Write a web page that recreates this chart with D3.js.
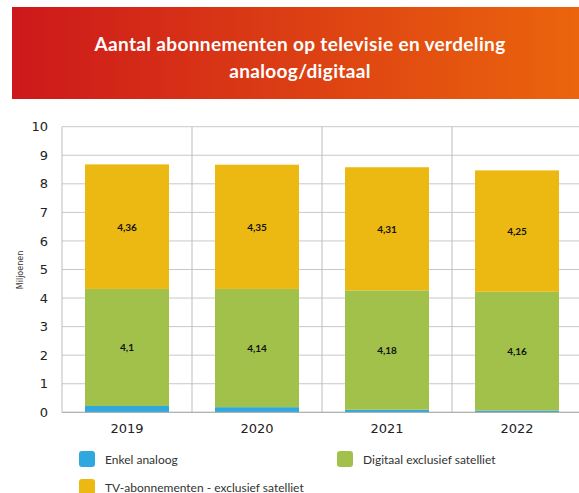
<!DOCTYPE html>
<html><head><meta charset="utf-8">
<script src="https://cdn.jsdelivr.net/npm/d3@7"></script>
<style>body{margin:0;background:#fff}svg{display:block}</style>
</head><body>
<script>
const years = ["2019","2020","2021","2022"];
const enkelAnaloog = [0.22, 0.18, 0.09, 0.06];
const digitaalExclSat = [4.1, 4.14, 4.18, 4.16];
const tvAbonnementen = [4.36, 4.35, 4.31, 4.25];
const yTicks = [0,1,2,3,4,5,6,7,8,9,10];
const seriesNames = ["Enkel analoog","Digitaal exclusief satelliet","TV-abonnementen - exclusief satelliet"];
const labelsGreen = ["4,1","4,14","4,18","4,16"];
const labelsYellow = ["4,36","4,35","4,31","4,25"];
const colors = ["#2FA8DF","#A2C14A","#EBB911"];

(function(){
const W=579,H=493;
const svg=d3.select("body").append("svg").attr("width",W).attr("height",H);
const defs=svg.append("defs");
const g=defs.append("linearGradient").attr("id","hdr").attr("x1","0").attr("x2","1");
g.append("stop").attr("offset","0").attr("stop-color","#CD181B");
g.append("stop").attr("offset","1").attr("stop-color","#EB650C");
svg.append("rect").attr("x",12).attr("y",7).attr("width",W-12).attr("height",92).attr("fill","url(#hdr)");
const titleStyle=t=>t.attr("text-anchor","middle").attr("fill","#fff")
  .style("font-family","Lato").style("font-weight","bold").style("font-size","19px").style("letter-spacing","0.35px");
svg.append("text").attr("x",300).attr("y",51).call(titleStyle)
  .text("Aantal abonnementen op televisie en verdeling");
svg.append("text").attr("x",300).attr("y",78).call(titleStyle)
  .text("analoog/digitaal");

const pL=62,pR=582,pT=126.7,pB=412.3;
const x=d3.scaleBand().domain(years).range([pL,pR]).paddingInner(0).paddingOuter(0);
const y=d3.scaleLinear().domain([0,10]).range([pB,pT]);

svg.append("g").selectAll("line").data(yTicks).join("line")
  .attr("x1",pL).attr("x2",W).attr("y1",d=>y(d)).attr("y2",d=>y(d))
  .attr("stroke","#c8c8c8").attr("stroke-width",1);
svg.append("g").selectAll("line").data(years).join("line")
  .attr("x1",d=>x(d)).attr("x2",d=>x(d)).attr("y1",pT).attr("y2",pB)
  .attr("stroke","#bdbdbd").attr("stroke-width",1);

const data=years.map((yr,i)=>({year:yr,a:enkelAnaloog[i],b:digitaalExclSat[i],c:tvAbonnementen[i]}));
const stack=d3.stack().keys(["a","b","c"])(data);
const bw=x.bandwidth()*0.646;
const off=(x.bandwidth()-bw)/2;
stack.forEach((s,si)=>{
  svg.append("g").selectAll("rect").data(s).join("rect")
    .attr("x",d=>x(d.data.year)+off).attr("width",bw)
    .attr("y",d=>y(d[1])).attr("height",d=>y(d[0])-y(d[1]))
    .attr("fill",colors[si]);
});
const lab=(s,labels)=>svg.append("g").selectAll("text").data(s).join("text")
  .attr("x",d=>x(d.data.year)+x.bandwidth()/2).attr("y",d=>(y(d[0])+y(d[1]))/2+4)
  .attr("text-anchor","middle").style("font-family","Lato").style("font-weight","bold")
  .style("font-size","10px").attr("fill","#111").text((d,i)=>labels[i]);
lab(stack[1],labelsGreen);
lab(stack[2],labelsYellow);

svg.append("line").attr("x1",pL).attr("x2",W).attr("y1",pB).attr("y2",pB).attr("stroke","#aaa");

const ya=svg.append("g").attr("transform",`translate(${pL},0)`)
  .call(d3.axisLeft(y).tickValues(yTicks).tickSize(0).tickPadding(14).tickFormat(d3.format("d")));
ya.select(".domain").remove();
ya.selectAll("text").style("font-family","DejaVu Sans").style("font-size","13px").attr("fill","#222");
const xa=svg.append("g").attr("transform",`translate(0,${pB})`)
  .call(d3.axisBottom(x).tickSize(0).tickPadding(11));
xa.select(".domain").remove();
xa.selectAll("text").style("font-family","DejaVu Sans").style("font-size","13px").attr("fill","#222");

svg.append("text").attr("transform","translate(23,270) rotate(-90)").attr("text-anchor","middle")
  .style("font-family","DejaVu Sans").style("font-size","8px").attr("fill","#333").text("Miljoenen");

const legPos=[[79,451],[337,451],[79,479]];
seriesNames.forEach((n,i)=>{
  const [lx,ly]=legPos[i];
  svg.append("rect").attr("x",lx).attr("y",ly).attr("width",16).attr("height",16).attr("rx",3).attr("fill",colors[i]);
  svg.append("text").attr("x",lx+26).attr("y",ly+12.5).style("font-family","Lato").style("font-size","12px")
    .attr("fill","#333").text(n);
});
})();
</script>
</body></html>
